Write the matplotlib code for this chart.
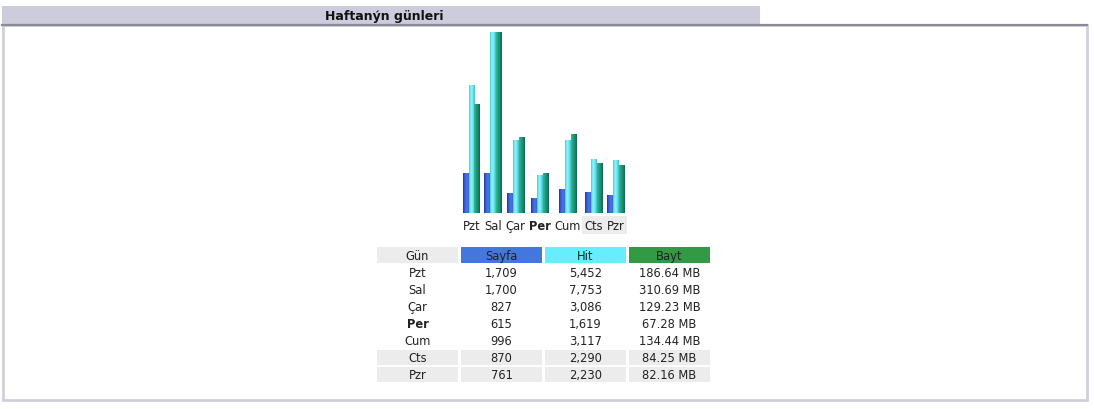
import numpy as np
import matplotlib.pyplot as plt
from matplotlib.patches import Rectangle
from matplotlib.colors import LinearSegmentedColormap

days = ['Pzt', 'Sal', 'Çar', 'Per', 'Cum', 'Cts', 'Pzr']
pages = [1709, 1700, 827, 615, 996, 870, 761]
hits = [5452, 7753, 3086, 1619, 3117, 2290, 2230]
bytes_mb = [186.64, 310.69, 129.23, 67.28, 134.44, 84.25, 82.16]
headers = ['Gün', 'Sayfa', 'Hit', 'Bayt']
today = 'Per'
weekend = ['Cts', 'Pzr']

W, H = 1095, 410
FS = 8.3
fig = plt.figure(figsize=(W / 100, H / 100), dpi=100)

# background layer in pixel coords: title bar, frame, table
bg = fig.add_axes([0, 0, 1, 1])
bg.set_xlim(0, W)
bg.set_ylim(H, 0)
bg.axis('off')

bg.add_patch(Rectangle((2, 7), 758, 18, fc='#ccccdd', ec='none'))
bg.text(384, 16.5, 'Haftanýn günleri', ha='center', va='center',
        fontsize=9, fontweight='bold', color='#111111')
bg.add_patch(Rectangle((2.5, 26), 1084, 375, fc='white', ec='#d0d0dc', lw=2))
bg.plot([2, 1087], [26, 26], color='#8a8a96', lw=1.6)

# table
col_x = [377, 461, 545, 629]
col_w = 81
head_cols = ['#ececec', '#4477dd', '#66eeff', '#339944']
for j, h in enumerate(headers):
    bg.add_patch(Rectangle((col_x[j], 248), col_w, 16, fc=head_cols[j], ec='none'))
    bg.text(col_x[j] + col_w / 2, 256.5, h, ha='center', va='center',
            fontsize=FS, color='#222222')

for i, d in enumerate(days):
    yc = 273.5 + 17.05 * i
    cells = [d, f'{pages[i]:,}', f'{hits[i]:,}', f'{bytes_mb[i]:.2f} MB']
    for j, c in enumerate(cells):
        if d in weekend:
            bg.add_patch(Rectangle((col_x[j], yc - 7.5), col_w, 15,
                                   fc='#ececec', ec='none'))
        bold = 'bold' if (j == 0 and d == today) else 'normal'
        bg.text(col_x[j] + col_w / 2, yc, c, ha='center', va='center',
                fontsize=FS, color='#222222', fontweight=bold)

# column widths follow the label widths, like the html table does
renderer = fig.canvas.get_renderer()
lw = []
for d in days:
    t = fig.text(0, 0, d, fontsize=FS, fontweight='bold' if d == today else 'normal')
    lw.append(max(t.get_window_extent(renderer).width, 18))
    t.remove()
span = 144.2
half = [(lw[i] + lw[i + 1]) / 2 for i in range(len(days) - 1)]
gap = (span - sum(half)) / len(half)
centers = np.concatenate([[0], np.cumsum(np.array(half) + gap)]) + 12

# bars
ax = fig.add_axes([459.5 / W, (H - 214) / H, 168 / W, 181 / H])
ax2 = ax.twinx()
w = 5.9
b1 = ax.bar(centers - w, pages, w, color='#4466dd', zorder=2)
b2 = ax.bar(centers, hits, w, color='#66eeff', zorder=2)
b3 = ax2.bar(centers + w, bytes_mb, w, color='#229977', zorder=2)


def shade(a, bars, cols):
    cmap = LinearSegmentedColormap.from_list('s', cols)
    grad = np.linspace(0, 1, 32).reshape(1, -1)
    for b in bars:
        a.imshow(grad, cmap=cmap, aspect='auto', zorder=3,
                 extent=(b.get_x(), b.get_x() + b.get_width(), 0, b.get_height()))


shade(ax, b1, ['#22399a', '#3a62d6', '#4a74e2', '#3d66d8'])
shade(ax, b2, ['#48c8d0', '#8cf6ff', '#70e8f0', '#3cbcc4'])
shade(ax2, b3, ['#34b898', '#22a080', '#158a6a', '#0c6a50'])

ax.set_xlim(0, 168)
ax.set_ylim(0, max(hits))
ax2.set_ylim(0, max(bytes_mb))
for a in (ax, ax2):
    for s in a.spines.values():
        s.set_visible(False)
    a.set_yticks([])
    a.patch.set_visible(False)
ax.set_xticks(centers, days, fontsize=FS, color='#222222')
ax.tick_params(axis='x', length=0, pad=4)
for lbl in ax.get_xticklabels():
    if lbl.get_text() == today:
        lbl.set_fontweight('bold')
    if lbl.get_text() in weekend:
        lbl.set_bbox(dict(fc='#ececec', ec='none', pad=1.5))

fig.savefig('out.png', dpi=100)
